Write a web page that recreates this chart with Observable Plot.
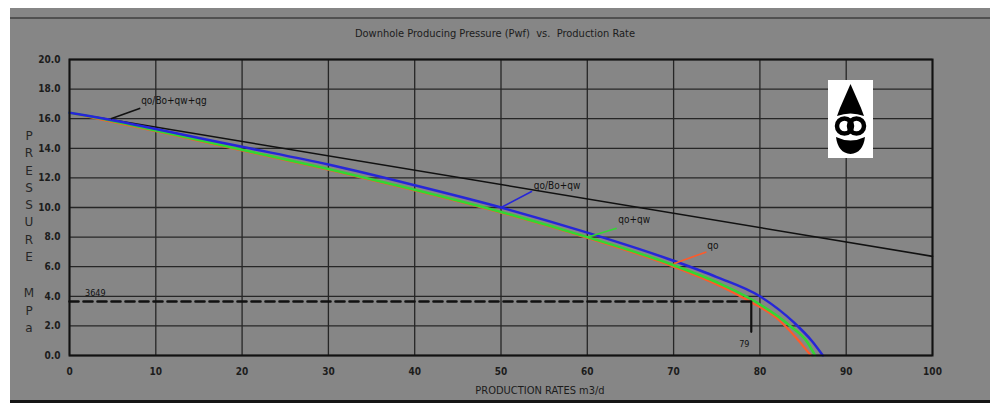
<!DOCTYPE html>
<html>
<head>
<meta charset="utf-8">
<script src="https://cdn.jsdelivr.net/npm/d3@7"></script>
<script src="https://cdn.jsdelivr.net/npm/@observablehq/plot@0.6"></script>
<style>
  html, body { margin: 0; padding: 0; background: #ffffff; width: 990px; height: 408px; overflow: hidden; }
  #panel { position: absolute; left: 10px; top: 8px; width: 980px; height: 392px; background: #868686; border-bottom: 3px solid #151515; }
  #topline { position: absolute; left: 10px; top: 17px; width: 980px; height: 2px; background: #505050; }
  #chart { position: absolute; left: 0; top: 0; }
  .txt { position: absolute; font-family: "Liberation Sans Narrow", "DejaVu Sans Condensed", "DejaVu Sans", sans-serif; font-stretch: condensed; color: #1c1c1c; }
  #title { top: 27px; left: 0; width: 990px; text-align: center; font-size: 11px; }
  #xlabel { top: 384px; left: 440px; width: 200px; text-align: center; font-size: 11px; }
  .ylab { position: absolute; left: 21px; width: 16px; text-align: center; font-size: 12px; font-family: "DejaVu Sans", sans-serif; color: #262626; }
  #logo { position: absolute; left: 828px; top: 80px; }
</style>
</head>
<body>
<div id="panel"></div>
<div id="topline"></div>
<div id="chart"></div>
<div class="txt" id="title">Downhole Producing Pressure (Pwf) &nbsp;vs. &nbsp;Production Rate</div>
<div class="txt" id="xlabel">PRODUCTION RATES m3/d</div>
<div class="ylab" style="top:128px;line-height:17.3px">P<br>R<br>E<br>S<br>S<br>U<br>R<br>E</div>
<div class="ylab" style="top:285px;line-height:17.5px">M<br>P<br>a</div>
<svg id="logo" width="45" height="78" viewBox="0 0 45 78">
  <rect x="0" y="0" width="45" height="78" fill="#ffffff"/>
  <path d="M22.5 4 L33 28 L12 28 Z" fill="#000"/>
  <path d="M12 28 Q22.5 24 33 28 L36 36 Q22.5 31 9 36 Z" fill="#000"/>
  <circle cx="16.5" cy="46" r="7.5" fill="none" stroke="#000" stroke-width="4.5"/>
  <circle cx="28.5" cy="46" r="7.5" fill="none" stroke="#000" stroke-width="4.5"/>
  <path d="M8 57 Q22.5 64 37 57 Q35 73 22.5 74 Q10 73 8 57 Z" fill="#000"/>
</svg>
<script>
// ---- data ----
const xTicks = [0, 10, 20, 30, 40, 50, 60, 70, 80, 90, 100];
const yTicks = [0, 2, 4, 6, 8, 10, 12, 14, 16, 18, 20];

const blackRate = [0, 100];
const blackPwf  = [16.4, 6.7];

const blueRate = [0, 5, 10, 15, 20, 30, 40, 50, 60, 70, 75, 80, 84, 86, 87.3];
const bluePwf  = [16.4, 15.9, 15.3, 14.7, 14.1, 12.9, 11.5, 10.0, 8.3, 6.4, 5.3, 4.0, 2.2, 1.0, 0];

const greenRate = [0, 5, 10, 20, 30, 40, 50, 60, 70, 75, 79, 83.5, 85.5, 86.4];
const greenPwf  = [16.4, 15.85, 15.2, 13.9, 12.6, 11.2, 9.7, 8.0, 6.1, 4.95, 3.8, 2.0, 0.9, 0];

const redRate = [0, 10, 20, 30, 40, 50, 60, 70, 75, 79, 82, 84.5, 85.9];
const redPwf  = [16.4, 15.15, 13.85, 12.55, 11.15, 9.65, 7.95, 6.0, 4.8, 3.6, 2.5, 1.0, 0];

const operatingPwf = 3.649;
const operatingRate = 79;
const operatingPwfLabel = "3649";
const operatingRateLabel = "79";

const labelText = ["qo/Bo+qw+qg", "qo/Bo+qw", "qo+qw", "qo"];
const labelRate = [8.3, 53.8, 63.6, 73.9];
const labelPwf  = [17.2, 11.5, 9.2, 7.4];
const leaderFromRate = [4.8, 50, 60.1, 70];
const leaderFromPwf  = [16.0, 10.0, 8.0, 6.2];
const leaderToRate = [8.2, 53.6, 63.4, 73.8];
const leaderToPwf  = [16.7, 11.1, 8.6, 7.0];
const leaderColor = ["#111111", "#2626d8", "#33d633", "#ff5a2a"];

// ---- build tables ----
const toPts = (xs, ys) => xs.map((x, i) => ({x, y: ys[i]}));
const black = toPts(blackRate, blackPwf);
const blue = toPts(blueRate, bluePwf);
const green = toPts(greenRate, greenPwf);
const red = toPts(redRate, redPwf);
const labels = labelText.map((t, i) => ({t, x: labelRate[i], y: labelPwf[i]}));
const leaders = labelText.map((t, i) => ({x1: leaderFromRate[i], y1: leaderFromPwf[i], x2: leaderToRate[i], y2: leaderToPwf[i], c: leaderColor[i]}));
const dashH = [{x: 0, y: operatingPwf}, {x: operatingRate, y: operatingPwf}];
const dashV = [{x: operatingRate, y: operatingPwf}, {x: operatingRate, y: 1.6}];

const font = "'Liberation Sans Narrow', 'DejaVu Sans Condensed', sans-serif";

const chart = Plot.plot({
  width: 990,
  height: 408,
  marginLeft: 69,
  marginRight: 58,
  marginTop: 59,
  marginBottom: 53,
  x: {domain: [0, 100]},
  y: {domain: [0, 20]},
  style: {background: "transparent", fontFamily: font, fontSize: "10px", color: "#1c1c1c"},
  marks: [
    Plot.gridX(xTicks, {stroke: "#262626", strokeOpacity: 1, strokeWidth: 1.3}),
    Plot.gridY(yTicks, {stroke: "#262626", strokeOpacity: 1, strokeWidth: 1.3}),
    Plot.axisX(xTicks, {tickSize: 0, tickPadding: 12, label: null, tickFormat: d => String(d), fontWeight: "bold"}),
    Plot.axisY(yTicks, {tickSize: 0, tickPadding: 9, label: null, tickFormat: d => d.toFixed(1), fontWeight: "bold"}),
    Plot.line(black, {x: "x", y: "y", stroke: "#111111", strokeWidth: 1.6}),
    Plot.line(red, {x: "x", y: "y", stroke: "#ff5a2a", strokeWidth: 2.2, curve: "monotone-x"}),
    Plot.line(green, {x: "x", y: "y", stroke: "#33d633", strokeWidth: 2.5, curve: "monotone-x"}),
    Plot.line(blue, {x: "x", y: "y", stroke: "#2626d8", strokeWidth: 2.5, curve: "monotone-x"}),
    Plot.line(dashH, {x: "x", y: "y", stroke: "#111111", strokeWidth: 2.6, strokeDasharray: "9,5"}),
    Plot.line(dashV, {x: "x", y: "y", stroke: "#111111", strokeWidth: 2.2}),
    Plot.link(leaders, {x1: "x1", y1: "y1", x2: "x2", y2: "y2", stroke: "c", strokeWidth: 1.6}),
    Plot.text(labels, {x: "x", y: "y", text: "t", textAnchor: "start", fontSize: 10, fill: "#111111"}),
    Plot.text([operatingPwfLabel], {x: 1.8, y: operatingPwf + 0.55, text: d => d, textAnchor: "start", fontSize: 9, fill: "#111"}),
    Plot.text([operatingRateLabel], {x: operatingRate - 0.8, y: 0.8, text: d => d, textAnchor: "middle", fontSize: 9, fill: "#111"}),
    Plot.frame({stroke: "#111111", strokeWidth: 2})
  ]
});
document.getElementById("chart").appendChild(chart);
</script>
</body>
</html>
